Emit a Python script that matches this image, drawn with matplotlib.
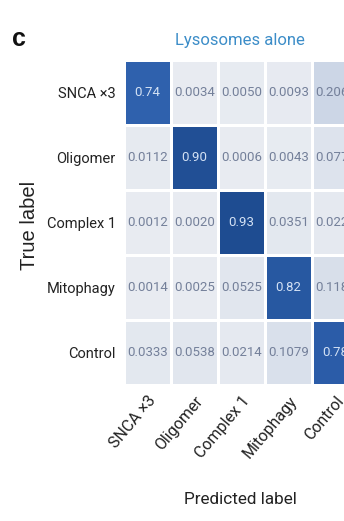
import numpy as np
import matplotlib.pyplot as plt
from matplotlib.colors import LinearSegmentedColormap

plt.rcParams['font.family'] = ['Roboto', 'DejaVu Sans']

labels = ["SNCA ×3", "Oligomer", "Complex 1", "Mitophagy", "Control"]
row_snca = [0.74, 0.0034, 0.0050, 0.0093, 0.2063]
row_olig = [0.0112, 0.90, 0.0006, 0.0043, 0.0775]
row_cplx = [0.0012, 0.0020, 0.93, 0.0351, 0.0226]
row_mito = [0.0014, 0.0025, 0.0525, 0.82, 0.1180]
row_ctrl = [0.0333, 0.0538, 0.0214, 0.1079, 0.78]
texts = [["0.74", "0.0034", "0.0050", "0.0093", "0.2063"],
         ["0.0112", "0.90", "0.0006", "0.0043", "0.0775"],
         ["0.0012", "0.0020", "0.93", "0.0351", "0.0226"],
         ["0.0014", "0.0025", "0.0525", "0.82", "0.1180"],
         ["0.0333", "0.0538", "0.0214", "0.1079", "0.78"]]

cm = np.array([row_snca, row_olig, row_cplx, row_mito, row_ctrl])

cmap = LinearSegmentedColormap.from_list(
    "lyso", [(0, "#e8ebf1"), (0.25, "#c8d3e4"), (0.8, "#2e60ad"), (1, "#1e4c91")])

fig = plt.figure(figsize=(3.44, 5.21), dpi=100)
ax = fig.add_axes([0.3605, 0.261, 0.683, 0.624])
ax.pcolormesh(cm, cmap=cmap, vmin=0, vmax=0.93, edgecolors="white", linewidth=1.8)
ax.set_xlim(0, 5)
ax.set_ylim(5, 0)

for i in range(5):
    for j in range(5):
        col = "#d3e1f4" if i == j else "#74809a"
        ax.text(j + 0.5, i + 0.5, texts[i][j], ha="center", va="center",
                fontsize=9.5, color=col)

ax.set_xticks(np.arange(5) + 0.5)
ax.set_yticks(np.arange(5) + 0.5)
ax.set_xticklabels(labels, rotation=50, ha="right", rotation_mode="anchor",
                   fontsize=11.5, color="#222222")
ax.set_yticklabels(labels, fontsize=10.5, color="#222222")
ax.tick_params(length=0, pad=6)
for s in ax.spines.values():
    s.set_visible(False)

fig.text(0.698, 0.923, "Lysosomes alone", ha="center", va="center",
         fontsize=12, color="#3c8dc8")
fig.text(0.698, 0.041, "Predicted label", ha="center", va="center",
         fontsize=12.3, color="#222222")
fig.text(0.085, 0.568, "True label", ha="center", va="center", rotation=90,
         fontsize=14.5, color="#222222", family=["Liberation Sans", "DejaVu Sans"])
fig.text(0.035, 0.925, "c", ha="left", va="center", fontsize=18,
         fontweight="bold", color="#111111", family=["Liberation Sans", "DejaVu Sans"])

fig.savefig("out.png", dpi=100)
